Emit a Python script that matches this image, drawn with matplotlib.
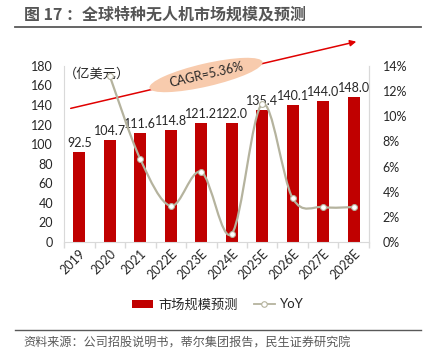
import numpy as np
import matplotlib
matplotlib.use("Agg")
import matplotlib.pyplot as plt
from matplotlib.path import Path
from matplotlib.patches import PathPatch, Patch, Ellipse
from matplotlib.lines import Line2D

plt.rcParams['font.family'] = ['Lato', 'Noto Sans CJK SC', 'DejaVu Sans']
CJK = ['Noto Sans CJK SC', 'DejaVu Sans']

# data
years = ['2019', '2020', '2021', '2022E', '2023E', '2024E', '2025E', '2026E', '2027E', '2028E']
market = [92.5, 104.7, 111.6, 114.8, 121.2, 122.0, 135.4, 140.1, 144.0, 148.0]
yoy = [None, 13.19, 6.59, 2.87, 5.57, 0.66, 10.98, 3.47, 2.78, 2.78]

bar_color = '#c00000'
line_color = '#b5b39e'
spine_color = '#d9d9d9'
text_color = '#262626'

fig = plt.figure(figsize=(4.3, 3.64), dpi=100)
ax = fig.add_axes([0.149, 0.335, 0.709, 0.484])
x = np.arange(len(years))

ax.bar(x, market, width=0.4, color=bar_color, zorder=2)
for xi, v in zip(x, market):
    ax.text(xi, v + 3, f'{v:.1f}', ha='center', va='bottom', fontsize=9, color=text_color, zorder=5)

ax.set_xlim(-0.5, len(years) - 0.5)
ax.set_ylim(0, 180)
ax.set_yticks(range(0, 181, 20))
ax.tick_params(axis='y', length=0, labelsize=9, colors=text_color, pad=8)
ax.set_xticks(x)
ax.set_xticklabels(years, rotation=45, ha='right', rotation_mode='anchor', fontsize=9, color=text_color)
ax.tick_params(axis='x', length=0, pad=4)
ax.set_xticks(np.arange(-0.5, len(years), 1), minor=True)
ax.tick_params(axis='x', which='minor', length=4, color=spine_color, width=1)
ax.spines['top'].set_visible(False)
for s in ['left', 'right', 'bottom']:
    ax.spines[s].set_color(spine_color)

ax.text(0.0, 0.99, '（亿美元）', transform=ax.transAxes, ha='left', va='top',
        fontsize=9.5, color=text_color, zorder=6, family=CJK)

ax2 = ax.twinx()
ax2.set_ylim(0, 14)
ax2.set_yticks(range(0, 15, 2))
ax2.set_yticklabels([f'{v}%' for v in range(0, 15, 2)])
ax2.tick_params(axis='y', length=0, labelsize=9, colors=text_color, pad=10)
for s in ['top', 'left', 'bottom']:
    ax2.spines[s].set_visible(False)
ax2.spines['right'].set_color(spine_color)

# smooth line through YoY points (bezier path)
px = [xi for xi, v in zip(x, yoy) if v is not None]
py = [v for v in yoy if v is not None]
pts = np.column_stack([px, py]).astype(float)
verts = [tuple(pts[0])]
codes = [Path.MOVETO]
n = len(pts)
for i in range(n - 1):
    p0 = pts[i - 1] if i > 0 else pts[i]
    p1 = pts[i]
    p2 = pts[i + 1]
    p3 = pts[i + 2] if i + 2 < n else pts[i + 1]
    c1 = p1 + (p2 - p0) / 6
    c2 = p2 - (p3 - p1) / 6
    verts += [tuple(c1), tuple(c2), tuple(p2)]
    codes += [Path.CURVE4] * 3
ax2.add_patch(PathPatch(Path(verts, codes), fill=False, ec=line_color, lw=1.6, zorder=3))
ax2.plot(px, py, ls='none', marker='o', ms=4.2, mfc='white', mec=line_color, mew=0.8, zorder=4)

# CAGR arrow and label
ax.annotate('', xy=(359 / 430, 1 - 41 / 364), xytext=(68 / 430, 1 - 109 / 364),
            xycoords='figure fraction', textcoords='figure fraction',
            arrowprops=dict(arrowstyle='-|>', color='#e00000', lw=1.1, mutation_scale=9),
            annotation_clip=False, zorder=7)
fig.add_artist(Ellipse((2.06, (364 - 75) / 100), 1.16, 0.23, angle=13,
                       transform=fig.dpi_scale_trans, fc='#f8cbad', ec='none', zorder=8))
fig.text(206 / 430, 1 - 75 / 364, 'CAGR=5.36%', rotation=13, ha='center', va='center',
         fontsize=9, color=text_color, zorder=9, rotation_mode='anchor')

# legend
handles = [Patch(fc=bar_color, ec='none'),
           Line2D([], [], color=line_color, lw=1.3, marker='o', ms=4, mfc='white', mec=line_color, mew=0.8)]
leg = fig.legend(handles, ['市场规模预测', 'YoY'], loc='center', bbox_to_anchor=(218 / 430, 1 - 305 / 364),
                 ncol=2, frameon=False, fontsize=9.5, handlelength=1.6, handleheight=0.6,
                 columnspacing=1.2, handletextpad=0.4, labelcolor=text_color)
leg.get_texts()[0].set_family(CJK)

# title and source
fig.text(24 / 430, 1 - 15 / 364, '图 17 ：全球特种无人机市场规模及预测', fontsize=11.5, fontweight='bold',
         color='#555555', ha='left', va='center', family=CJK)
fig.add_artist(Line2D([15 / 430, 421 / 430], [1 - 27 / 364] * 2, color='#595959', lw=1.3))
fig.add_artist(Line2D([15 / 430, 421 / 430], [1 - 330 / 364] * 2, color='#595959', lw=1.0))
fig.text(23 / 430, 1 - 343 / 364, '资料来源：公司招股说明书，蒂尔集团报告，民生证券研究院', fontsize=8.7,
         color='#595959', ha='left', va='center', family=CJK)

fig.savefig('out.png', dpi=100)
